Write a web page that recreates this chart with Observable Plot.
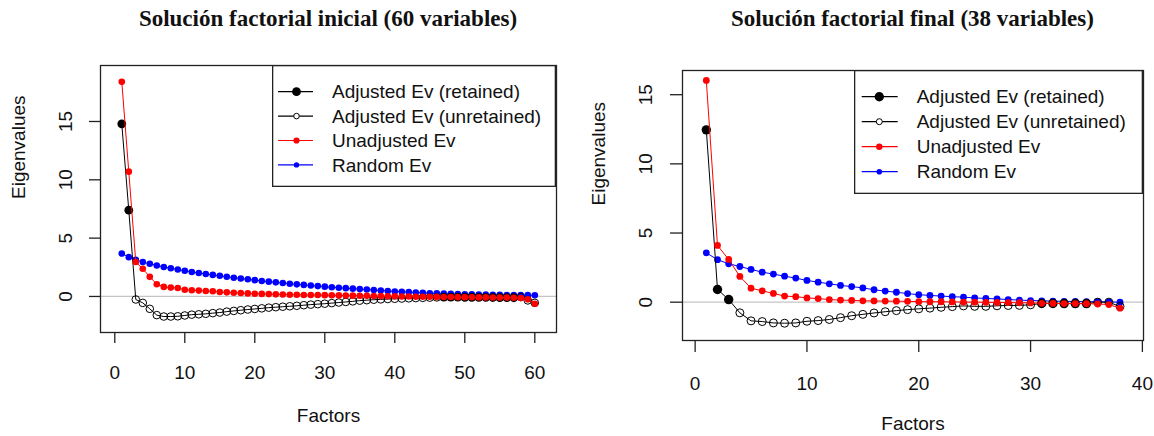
<!DOCTYPE html>
<html><head><meta charset="utf-8">
<script src="https://cdn.jsdelivr.net/npm/d3@7"></script>
<script src="https://cdn.jsdelivr.net/npm/@observablehq/plot@0.6"></script>
<style>
body{margin:0;background:#fff;}
#wrap{position:relative;width:1154px;height:436px;overflow:hidden;font-family:"Liberation Sans",Arial,sans-serif;background:#fff;}
.panel{position:absolute;top:0;width:577px;height:436px;}
.title{position:absolute;top:6px;font-family:"Liberation Serif","Times New Roman",serif;font-weight:bold;font-size:23px;white-space:nowrap;transform:translateX(-50%);color:#111;}
.legend{position:absolute;}
</style>
</head><body>
<div id="wrap"></div>
<script>
// ---------- DATA ----------
const titles = ["Solución factorial inicial (60 variables)", "Solución factorial final (38 variables)"];
const xLabel = "Factors";
const yLabel = "Eigenvalues";
const legendLabels = ["Adjusted Ev (retained)", "Adjusted Ev (unretained)", "Unadjusted Ev", "Random Ev"];

const xTicks1 = [0, 10, 20, 30, 40, 50, 60];
const yTicks1 = [0, 5, 10, 15];
const unadjusted1 = [18.4, 10.7, 2.95, 2.37, 1.68, 1.05, 0.82, 0.76, 0.72, 0.58, 0.53, 0.50, 0.47, 0.44, 0.38, 0.35, 0.32, 0.29, 0.26, 0.23,
  0.22, 0.20, 0.18, 0.17, 0.15, 0.14, 0.13, 0.12, 0.12, 0.11, 0.10, 0.09, 0.08, 0.07, 0.06, 0.05, 0.04, 0.03, 0.02, 0.01,
  0.00, -0.01, -0.02, -0.03, -0.03, -0.04, -0.05, -0.05, -0.06, -0.07, -0.07, -0.08, -0.08, -0.09, -0.10, -0.10, -0.11, -0.13, -0.25, -0.63];
const random1 = [3.68, 3.37, 3.15, 2.95, 2.80, 2.66, 2.53, 2.42, 2.31, 2.20, 2.10, 2.01, 1.93, 1.85, 1.77, 1.69, 1.61, 1.54, 1.47, 1.40,
  1.33, 1.27, 1.21, 1.15, 1.09, 1.04, 0.99, 0.94, 0.89, 0.84, 0.79, 0.75, 0.71, 0.67, 0.63, 0.59, 0.55, 0.51, 0.47, 0.43,
  0.40, 0.37, 0.34, 0.31, 0.28, 0.26, 0.24, 0.22, 0.20, 0.19, 0.18, 0.17, 0.16, 0.15, 0.14, 0.13, 0.12, 0.12, 0.11, 0.10];
const adjusted1 = [14.8, 7.4, -0.26, -0.55, -1.06, -1.60, -1.72, -1.72, -1.70, -1.63, -1.56, -1.53, -1.49, -1.43, -1.38, -1.30, -1.24, -1.18, -1.12, -1.07,
  -1.02, -0.96, -0.92, -0.88, -0.84, -0.80, -0.75, -0.70, -0.66, -0.62, -0.57, -0.52, -0.47, -0.42, -0.36, -0.32, -0.28, -0.25, -0.22, -0.20,
  -0.18, -0.16, -0.14, -0.12, -0.10, -0.08, -0.05, -0.05, -0.06, -0.07, -0.07, -0.08, -0.08, -0.09, -0.10, -0.10, -0.11, -0.05, -0.34, -0.55];
const retained1 = [1, 2, 47, 48, 49, 50, 51, 52, 53, 54, 55, 56, 57];

const xTicks2 = [0, 10, 20, 30, 40];
const yTicks2 = [0, 5, 10, 15];
const unadjusted2 = [16.03, 4.1, 3.09, 1.86, 1.01, 0.82, 0.63, 0.44, 0.40, 0.31, 0.26, 0.19, 0.15, 0.13, 0.10, 0.09, 0.08, 0.07, 0.06, 0.04,
  0.03, 0.03, 0.02, 0.01, 0.00, -0.01, -0.02, -0.03, -0.04, -0.05, -0.08, -0.09, -0.10, -0.10, -0.11, -0.13, -0.17, -0.43];
const random2 = [3.57, 3.07, 2.78, 2.58, 2.37, 2.17, 2.03, 1.88, 1.74, 1.57, 1.45, 1.33, 1.21, 1.13, 1.03, 0.90, 0.80, 0.72, 0.62, 0.54,
  0.49, 0.44, 0.40, 0.36, 0.31, 0.27, 0.24, 0.19, 0.15, 0.12, 0.10, 0.08, 0.06, 0.05, 0.04, 0.03, 0.02, 0.00];
const adjusted2 = [12.46, 0.92, 0.19, -0.77, -1.35, -1.40, -1.50, -1.52, -1.50, -1.38, -1.33, -1.25, -1.12, -0.98, -0.88, -0.78, -0.69, -0.61, -0.54, -0.48,
  -0.43, -0.37, -0.32, -0.27, -0.30, -0.30, -0.26, -0.24, -0.23, -0.19, -0.09, -0.09, -0.10, -0.10, -0.10, 0.00, 0.00, -0.31];
const retained2 = [1, 2, 3, 31, 32, 33, 34, 35];

// ---------- STYLE / LAYOUT ----------
const colAdj = "#000000", colUnadj = "#ff0000", colRnd = "#0000ff", zeroCol = "#c4c4c4";

const panels = [
  {left: 0, title: titles[0], xTicks: xTicks1, yTicks: yTicks1, unadj: unadjusted1, rnd: random1, adj: adjusted1, retained: retained1,
   xDomain: [-2.04, 63.1], yDomain: [-3.09, 19.8],
   margin: {top: 65, right: 21, bottom: 104, left: 100}, tickSize: 11,
   xTickPad: 22, xLabelDy: 83, yTickDx: -35, yLabelDx: -82,
   rBig: 4.4, rOpen: 3.8, rSmall: 3.3,
   legend: {left: 272, top: 65, width: 284, height: 122, row0: 26.7, step: 24.4, l0: 6, l1: 41, pt: 24.5, tx: 60}},
  {left: 577, title: titles[1], xTicks: xTicks2, yTicks: yTicks2, unadj: unadjusted2, rnd: random2, adj: adjusted2, retained: retained2,
   xDomain: [-1.13, 40.1], yDomain: [-2.77, 16.75],
   margin: {top: 70, right: 11, bottom: 96, left: 105}, tickSize: 12,
   xTickPad: 24, xLabelDy: 83, yTickDx: -37, yLabelDx: -84,
   rBig: 4.7, rOpen: 4.0, rSmall: 3.4,
   legend: {left: 277, top: 70, width: 289, height: 124, row0: 26.7, step: 25, l0: 7.7, l1: 43.7, pt: 25.3, tx: 62.7}}
];

const wrap = document.getElementById("wrap");

panels.forEach(p => {
  const rows = p.unadj.map((v, i) => ({f: i + 1, unadj: v, rnd: p.rnd[i], adj: p.adj[i], ret: p.retained.includes(i + 1)}));
  const div = document.createElement("div");
  div.className = "panel";
  div.style.left = p.left + "px";
  wrap.appendChild(div);

  const chart = Plot.plot({
    width: 577, height: 436,
    marginTop: p.margin.top, marginRight: p.margin.right, marginBottom: p.margin.bottom, marginLeft: p.margin.left,
    style: {fontFamily: "'Liberation Sans', Arial, sans-serif", fontSize: "19px", color: "#111", background: "white"},
    x: {domain: p.xDomain},
    y: {domain: p.yDomain},
    marks: [
      Plot.ruleY([0], {stroke: zeroCol, strokeWidth: 1.3}),
      Plot.line(rows, {x: "f", y: "rnd", stroke: colRnd, strokeWidth: 1}),
      Plot.dot(rows, {x: "f", y: "rnd", r: p.rSmall, fill: colRnd}),
      Plot.line(rows, {x: "f", y: "adj", stroke: colAdj, strokeWidth: 1}),
      Plot.dot(rows.filter(d => !d.ret), {x: "f", y: "adj", r: p.rOpen, stroke: colAdj, strokeWidth: 1, fill: "none"}),
      Plot.dot(rows.filter(d => d.ret), {x: "f", y: "adj", r: p.rBig, fill: colAdj}),
      Plot.line(rows, {x: "f", y: "unadj", stroke: colUnadj, strokeWidth: 1}),
      Plot.dot(rows, {x: "f", y: "unadj", r: p.rSmall, fill: colUnadj}),
      Plot.frame({stroke: "#222", strokeWidth: 1.3}),
      Plot.axisX({ticks: p.xTicks, tickSize: p.tickSize, tickPadding: p.xTickPad, fontSize: 19, label: null, stroke: "#222", strokeWidth: 1.3}),
      Plot.axisY({ticks: p.yTicks, tickSize: p.tickSize, tickFormat: () => "", label: null, stroke: "#222", strokeWidth: 1.3}),
      Plot.text(p.yTicks, {y: d => d, text: d => String(d), frameAnchor: "left", dx: p.yTickDx, rotate: -90, textAnchor: "middle", lineAnchor: "middle", fontSize: 19}),
      Plot.text([xLabel], {text: d => d, frameAnchor: "bottom", dy: p.xLabelDy, fontSize: 19, lineAnchor: "middle"}),
      Plot.text([yLabel], {text: d => d, frameAnchor: "left", dx: p.yLabelDx, rotate: -90, fontSize: 19, lineAnchor: "middle"})
    ]
  });
  div.appendChild(chart);

  const t = document.createElement("div");
  t.className = "title";
  t.textContent = p.title;
  t.style.left = (p.margin.left + (577 - p.margin.left - p.margin.right) / 2) + "px";
  div.appendChild(t);

  const L = p.legend;
  const svg = d3.create("svg").attr("class", "legend").attr("width", L.width).attr("height", L.height)
    .style("left", L.left + "px").style("top", L.top + "px");
  svg.append("rect").attr("x", 0.65).attr("y", 0.65).attr("width", L.width - 1.3).attr("height", L.height - 1.3)
    .attr("fill", "white").attr("stroke", "#222").attr("stroke-width", 1.3);
  const sym = [
    {c: colAdj, fill: colAdj, r: p.rBig, stroke: "none"},
    {c: colAdj, fill: "white", r: p.rOpen - 1, stroke: colAdj},
    {c: colUnadj, fill: colUnadj, r: p.rSmall - 0.2, stroke: "none"},
    {c: colRnd, fill: colRnd, r: p.rSmall - 0.6, stroke: "none"}
  ];
  legendLabels.forEach((lab, i) => {
    const y = L.row0 + i * L.step;
    const g = svg.append("g");
    g.append("line").attr("x1", L.l0).attr("x2", L.l1).attr("y1", y).attr("y2", y).attr("stroke", sym[i].c).attr("stroke-width", 1.2);
    g.append("circle").attr("cx", L.pt).attr("cy", y).attr("r", sym[i].r).attr("fill", sym[i].fill).attr("stroke", sym[i].stroke);
    g.append("text").attr("x", L.tx).attr("y", y).attr("dy", "0.35em").attr("font-size", 19)
      .attr("font-family", "'Liberation Sans', Arial, sans-serif").attr("fill", "#111").text(lab);
  });
  div.appendChild(svg.node());
});
</script>
</body></html>
